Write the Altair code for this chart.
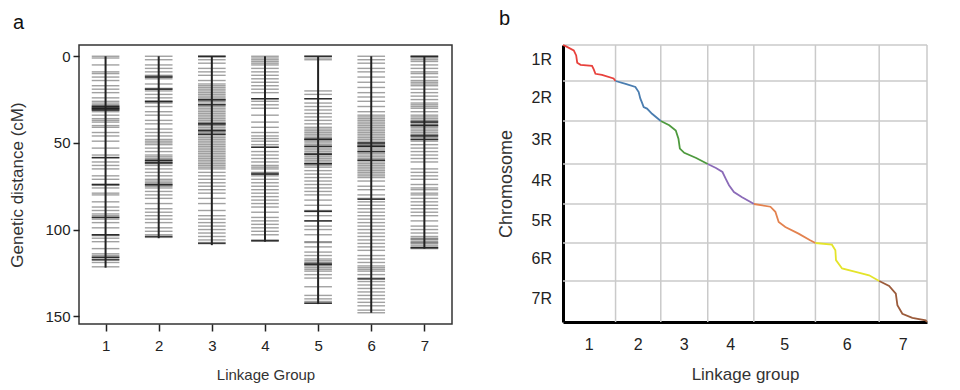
import altair as alt
import pandas as pd

# ---------------- data ----------------
lg_names = ["1", "2", "3", "4", "5", "6", "7"]
lg_length_cM = [122, 105, 109, 107, 143, 148, 111]

markers_lg1 = [0, 1, 5, 9, 10, 12, 14, 17, 19, 21, 24, 26, 27, 28, 28.5, 29, 29.5, 30, 30, 30.5, 31, 31, 32,
               34, 36, 37, 38, 40, 41, 44, 46, 49, 53, 57, 58.5, 61, 63, 65, 69, 71, 74, 74.5, 76, 79, 80, 84,
               87, 89, 91, 92, 93, 94, 96, 99, 103, 103.5, 105, 107, 111, 114, 115, 116, 117, 119, 121.5]
markers_lg2 = [0, 2, 5, 7, 9, 11, 11.5, 12, 13, 16, 18.5, 19, 20, 22, 24, 26, 26.5, 27, 29, 32, 34, 37, 39,
               42, 44, 46, 48, 49, 50, 51, 53, 55, 57, 58, 59, 60, 60.5, 61, 61.5, 62, 63, 65, 67, 69, 71, 72,
               73, 74, 74.5, 75, 76, 78, 80, 82, 85, 88, 90, 92, 94, 96, 99, 101, 103, 104.5]
markers_lg3 = [0, 0.5, 2, 4, 7, 9, 11, 14, 16, 17, 18, 19, 20, 21, 22, 23, 24, 25, 25.5, 26, 27, 28, 29, 30,
               31, 32, 33, 34, 35, 36, 37, 38, 38.5, 39, 39.5, 40, 41, 42, 42.5, 43, 44, 45, 46, 47, 48, 49,
               50, 51, 52, 53, 54, 55, 56, 57, 58, 59, 60, 61, 62, 63, 64, 65, 67, 69, 71, 73, 75, 77, 79, 82,
               85, 89, 92, 94, 96, 98, 100, 102, 104, 106, 107.5]
markers_lg4 = [0, 1, 2, 3, 4, 5, 7, 9, 11, 13, 15, 17, 19, 21, 24.5, 26, 28, 30, 34, 38, 41, 44, 46, 47.5,
               49, 51, 52.5, 55, 57, 59, 61, 63, 64, 65, 67, 67.5, 68, 69, 71, 73, 75, 77, 79, 81, 83, 85, 87,
               90, 93, 95, 97, 99, 101, 103, 106, 106.5]
markers_lg5 = [0, 1, 2, 20, 22, 24.5, 27, 29, 31, 33, 35, 37, 39, 41, 42, 43, 44, 45, 46, 47, 47.5, 48, 48,
               49, 50, 51, 52, 53, 54, 55, 56, 56.5, 57, 58, 59, 60, 61, 62, 62, 63, 64, 66, 68, 70, 72, 74,
               76, 78, 80, 83, 86, 89, 89.5, 92, 95, 98, 100, 103, 107, 107.5, 110, 113, 115, 117, 118, 119,
               119.5, 120, 120.5, 121, 122, 123, 124, 126, 128, 133, 138, 140, 141.5, 142.5]
markers_lg6 = [0, 2, 4, 7, 9, 12, 15, 18, 21, 23.5, 26, 29, 32, 34, 35, 36, 37, 38, 39, 40, 41, 42, 43, 44,
               45, 46, 47, 48, 49, 50, 50.5, 51, 51.5, 52, 52, 53, 54, 55, 56, 57, 58, 59, 60, 61, 62, 63, 64,
               65, 66, 67, 68, 69, 70, 72, 75, 77, 80, 82, 84, 86, 88, 90, 92, 94, 96, 98, 100, 102, 104, 106,
               108, 110, 112, 115, 117, 119, 121, 122, 123, 124, 126, 128, 130, 132, 134, 136, 138, 140, 142,
               144, 146.5, 148]
markers_lg7 = [0, 0.5, 1, 2, 3, 5, 7, 9, 10, 12, 14, 15, 16, 17, 19, 21, 23, 25, 27, 28, 29, 30, 32, 34, 35,
               36, 37, 37.5, 38, 39, 39.5, 40, 41, 42, 43, 44, 45, 45.5, 46, 47, 48, 49, 51, 53, 55, 57, 59,
               61, 65, 67, 69, 71, 74, 76, 77, 79, 80, 82, 84, 86, 88, 90, 92, 95, 98, 100, 102, 104, 105,
               105.5, 106, 107, 107.5, 108, 109, 110, 110.5, 111]

dark_lg1 = [29, 30, 31, 58.5, 74, 93, 103, 116, 117.5]
dark_lg2 = [12, 19, 26, 60, 61.5, 74, 104]
dark_lg3 = [0, 25, 28, 39, 43, 45, 108]
dark_lg4 = [24.5, 52.5, 68, 106.5]
dark_lg5 = [0, 24.5, 48, 52, 56.5, 62, 89.5, 95, 120, 142.5]
dark_lg6 = [50, 52, 55, 60, 82.5, 128.5]
dark_lg7 = [0, 38, 40, 46, 48, 110.5]

chrom_names = ["1R", "2R", "3R", "4R", "5R", "6R", "7R"]
chrom_len_Mb = [900, 1000, 1075, 1000, 975, 950, 1025]

curve_cM = [
    [0, 6, 25, 30.6, 33, 40.7, 67.4, 71.4, 75.3, 90.5, 117.4, 122],
    [0, 23.3, 46, 53.7, 57.6, 61.4, 65.3, 73, 84.7, 105],
    [0, 19.7, 34.8, 41, 44.3, 54.5, 82.2, 109],
    [0, 19.1, 34.2, 41.9, 49.4, 60.8, 79.7, 102.5, 107],
    [0, 38.5, 50, 57.7, 73.1, 103.8, 130.7, 143],
    [0, 38.3, 46.3, 47.7, 61.8, 93.3, 124.6, 148],
    [0, 23.1, 38.6, 42.3, 53.8, 76.9, 107.9, 111],
]
curve_frac = [
    [0, 0.03, 0.15, 0.29, 0.49, 0.55, 0.58, 0.68, 0.8, 0.83, 0.93, 1.0],
    [0, 0.07, 0.15, 0.275, 0.44, 0.54, 0.65, 0.69, 0.82, 1.0],
    [0, 0.1, 0.22, 0.41, 0.64, 0.74, 0.86, 1.0],
    [0, 0.1, 0.2, 0.37, 0.53, 0.7, 0.83, 0.97, 1.0],
    [0, 0.07, 0.2, 0.46, 0.59, 0.76, 0.93, 1.0],
    [0, 0.045, 0.19, 0.45, 0.67, 0.76, 0.85, 1.0],
    [0, 0.12, 0.31, 0.59, 0.8, 0.9, 0.96, 1.0],
]
lg_colors = ["#e8413c", "#4a7db0", "#4e9a3e", "#8b6bb8", "#e3824f", "#e4e42a", "#9b5b3b"]

FONT = "Liberation Sans"

# ---------------- tables ----------------
all_markers = [markers_lg1, markers_lg2, markers_lg3, markers_lg4, markers_lg5, markers_lg6, markers_lg7]
all_dark = [dark_lg1, dark_lg2, dark_lg3, dark_lg4, dark_lg5, dark_lg6, dark_lg7]
light_rows, dark_rows = [], []
for i, ms in enumerate(all_markers):
    for m in ms:
        light_rows.append({"lg": i + 1, "cM": m})
    for m in all_dark[i]:
        dark_rows.append({"lg": i + 1, "cM": m})
df_light = pd.DataFrame(light_rows)
df_dark = pd.DataFrame(dark_rows)
df_lg = pd.DataFrame({"lg": list(range(1, 8)), "start": [0] * 7, "length": lg_length_cM})

lg_start = [sum(lg_length_cM[:i]) for i in range(7)]
chrom_start = [sum(chrom_len_Mb[:i]) for i in range(7)]
total_cM = sum(lg_length_cM)
total_Mb = sum(chrom_len_Mb)

curve_rows = []
for i in range(7):
    for c, f in zip(curve_cM[i], curve_frac[i]):
        curve_rows.append({"lg": lg_names[i], "x": lg_start[i] + c,
                           "y": chrom_start[i] + f * chrom_len_Mb[i]})
df_curve = pd.DataFrame(curve_rows)

df_vgrid = pd.DataFrame({"x": [lg_start[i] + lg_length_cM[i] for i in range(7)]})
df_hgrid = pd.DataFrame({"y": chrom_start})
df_xlab = pd.DataFrame({"name": lg_names, "x": [lg_start[i] + lg_length_cM[i] / 2 for i in range(7)]})
df_ylab = pd.DataFrame({"name": chrom_names, "y": [chrom_start[i] + chrom_len_Mb[i] / 2 for i in range(7)]})

# ---------------- panel a ----------------
A_W, A_H = 373, 279
xs_a = alt.Scale(domain=[0.5, 7.52], nice=False, zero=False)
ys_a = alt.Scale(domain=[-6.5, 154.5], reverse=True, nice=False, zero=False)

ax_a_x = alt.Axis(values=[1, 2, 3, 4, 5, 6, 7], format="d", title="Linkage Group", grid=False,
                  domain=False, tickSize=7, tickWidth=1.5, tickColor="#222", labelFontSize=15,
                  labelPadding=7, labelColor="#222", titleFontSize=15, titleFontWeight="normal",
                  titleColor="#333", titlePadding=14, labelFont=FONT, titleFont=FONT)
ax_a_y = alt.Axis(values=[0, 50, 100, 150], title="Genetic distance  (cM)", grid=False, domain=False,
                  tickSize=6, tickWidth=1.5, tickColor="#222", labelFontSize=15, labelPadding=3,
                  labelColor="#222", titleFontSize=17, titleFontWeight="normal", titleColor="#333",
                  titlePadding=18, labelFont=FONT, titleFont=FONT)

X_A = alt.X("x:Q", scale=xs_a, axis=ax_a_x, title="Linkage Group")
Y_A = alt.Y("cM:Q", scale=ys_a, axis=ax_a_y, title="Genetic distance  (cM)")

light = alt.Chart(df_light).transform_calculate(
    x="datum.lg - 0.26", x1="datum.lg + 0.26"
).mark_rule(color="#444", strokeWidth=1.4, opacity=0.5).encode(
    x=X_A, x2="x1:Q", y=Y_A,
)
dark = alt.Chart(df_dark).transform_calculate(
    x="datum.lg - 0.26", x1="datum.lg + 0.26"
).mark_rule(color="#111", strokeWidth=1.5, opacity=0.8).encode(
    x=X_A, x2="x1:Q", y=Y_A,
)
backbone = alt.Chart(df_lg).transform_calculate(x="datum.lg", cM="datum.start").mark_rule(
    color="#222", strokeWidth=2).encode(
    x=X_A, y=Y_A, y2="length:Q",
)
panel_a = alt.layer(light, dark, backbone).properties(
    width=A_W, height=A_H,
    title=alt.TitleParams("a", anchor="start", frame="group", dx=-66, fontSize=20,
                          fontWeight="normal", font=FONT, offset=12, color="#111"),
    view=alt.ViewBackground(stroke="#333", strokeWidth=1.5),
)

# ---------------- panel b ----------------
B_W, B_H = 364, 277
xs_b = alt.Scale(domain=[0, total_cM], nice=False, zero=False)
ys_b = alt.Scale(domain=[0, total_Mb], reverse=True, nice=False, zero=False)

ax_b_x = alt.Axis(labels=False, ticks=False, grid=False, domainWidth=3, domainColor="#000",
                  title="Linkage group", titleFontSize=17, titleFontWeight="normal",
                  titleColor="#333", titlePadding=44, titleFont=FONT)
ax_b_y = alt.Axis(labels=False, ticks=False, grid=False, domainWidth=3, domainColor="#000",
                  title="Chromosome", titleFontSize=18, titleFontWeight="normal",
                  titleColor="#333", titlePadding=48, titleFont=FONT)
X_B = alt.X("x:Q", scale=xs_b, axis=ax_b_x, title="Linkage group")
Y_B = alt.Y("y:Q", scale=ys_b, axis=ax_b_y, title="Chromosome")

vgrid = alt.Chart(df_vgrid).mark_rule(color="#cacaca", strokeWidth=1.5).encode(x=X_B)
hgrid = alt.Chart(df_hgrid).mark_rule(color="#cacaca", strokeWidth=1.5).encode(y=Y_B)

curves = alt.Chart(df_curve).mark_line(strokeWidth=1.8).encode(
    x=X_B, y=Y_B,
    color=alt.Color("lg:N", scale=alt.Scale(domain=lg_names, range=lg_colors), legend=None),
    detail="lg:N",
    order="x:Q",
)
xlab = alt.Chart(df_xlab).mark_text(fontSize=16, font=FONT, color="#222", baseline="middle").encode(
    x=X_B, y=alt.value(B_H + 23), text="name:N")
ylab = alt.Chart(df_ylab).mark_text(fontSize=16, font=FONT, color="#222", baseline="middle",
                                    align="right", dy=-3).encode(
    y=Y_B, x=alt.value(-11), text="name:N")

panel_b = alt.layer(vgrid, hgrid, curves, xlab, ylab).properties(
    width=B_W, height=B_H,
    title=alt.TitleParams("b", anchor="start", frame="group", dx=-64, fontSize=20,
                          fontWeight="normal", font=FONT, offset=12, color="#111"),
    view=alt.ViewBackground(stroke="transparent"),
)

chart = alt.hconcat(panel_a, panel_b, spacing=43).properties(
    padding={"left": 0, "top": 0, "right": 0, "bottom": 0}
).configure(background="white").configure_view(stroke="transparent")

chart.save("out.html", embed_options={"renderer": "svg", "actions": False})
